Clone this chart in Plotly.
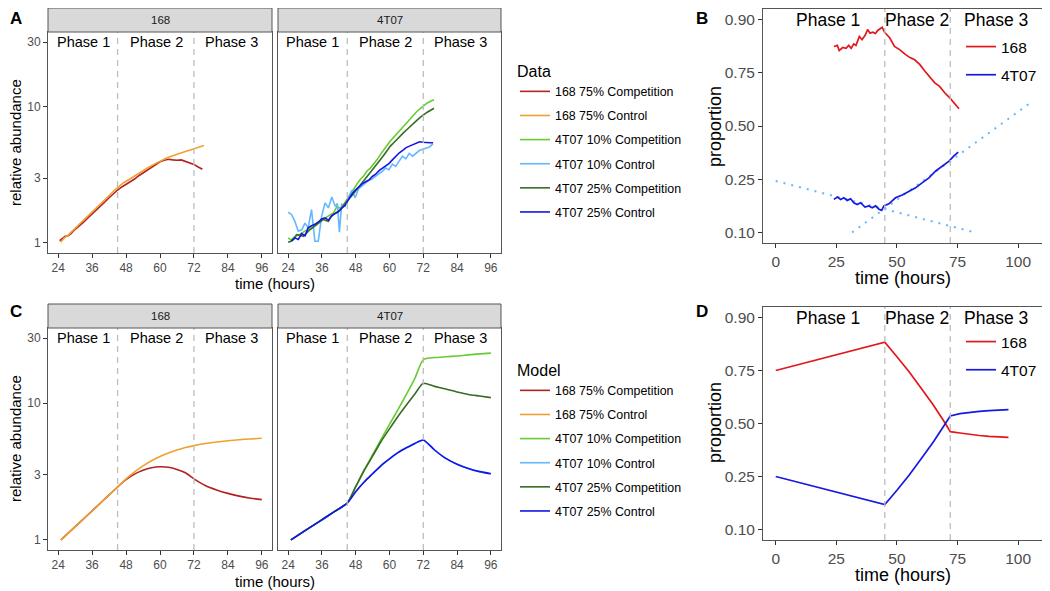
import math
import plotly.graph_objects as go

# page body has an 8px margin, so the figure is offset by 8px inside the window
OFF = 8
W, H = 1042, 583

# ---------------- data ----------------
phase_bounds = [45, 72]
phase_names = ["Phase 1", "Phase 2", "Phase 3"]

# Panel A : measured relative abundance
a_168_comp_t = [24.5, 25.5, 26.5, 27.5, 28.5, 30, 31.5, 33, 34.5, 36, 37.5, 39, 40.5, 42, 43.5, 45,
                46.5, 48, 49.5, 51, 52.5, 54, 55.5, 57, 58.5, 60, 61.5, 63, 64.5, 66, 67.5, 69,
                70.5, 72, 73.5, 75]
a_168_comp_y = [1.04, 1.08, 1.12, 1.13, 1.17, 1.26, 1.33, 1.42, 1.53, 1.63, 1.75, 1.88, 2.0, 2.15, 2.3, 2.45,
                2.58, 2.70, 2.80, 2.95, 3.12, 3.28, 3.45, 3.62, 3.80, 3.95, 4.05, 4.12, 4.08, 4.05, 4.08, 3.98,
                3.90, 3.78, 3.62, 3.48]
a_168_ctrl_t = [24.8, 26, 27.5, 29, 30.5, 32, 33.5, 35, 36.5, 38, 39.5, 41, 42.5, 44, 45.5, 47, 48.5, 50,
                51.5, 53, 54.5, 56, 57.5, 59, 60.5, 62, 63.5, 65, 66.5, 68, 69.5, 71, 72.5, 74, 75.5]
a_168_ctrl_y = [1.01, 1.08, 1.14, 1.22, 1.31, 1.40, 1.50, 1.60, 1.72, 1.85, 1.98, 2.12, 2.28, 2.45, 2.62, 2.76,
                2.88, 3.02, 3.16, 3.30, 3.44, 3.60, 3.75, 3.90, 4.05, 4.17, 4.30, 4.42, 4.53, 4.63, 4.74,
                4.85, 4.95, 5.07, 5.20]
a_4t07_10_comp_t = [24, 25, 26, 27, 28.2, 29.4, 30.5, 31.7, 32.9, 34.1, 35.3, 36.5, 37.7, 38.9, 40.1, 41.3,
                    42.5, 43.6, 44.8, 46, 47.2, 48.4, 49.6, 50.8, 52, 53.2, 54.4, 55.6, 56.8, 57.9, 59.1,
                    60.3, 61.5, 62.7, 63.9, 65.1, 66.3, 67.5, 68.6, 69.8, 71, 72.2, 73.4, 74.6, 75.8]
a_4t07_10_comp_y = [1.09, 1.05, 1.10, 1.12, 1.16, 1.20, 1.24, 1.28, 1.33, 1.40, 1.45, 1.50, 1.56, 1.60, 1.66,
                    1.85, 1.80, 1.90, 2.09, 2.25, 2.47, 2.70, 2.93, 3.10, 3.38, 3.55, 3.78, 4.10, 4.48, 4.85,
                    5.20, 5.62, 6.0, 6.42, 6.85, 7.3, 7.8, 8.35, 8.85, 9.3, 9.75, 10.3, 10.7, 11.0, 11.3]
a_4t07_10_ctrl_t = [24, 25.2, 26.4, 27.6, 28.8, 30, 31.1, 32.3, 33.5, 34.7, 35.9, 37.1, 38.3, 39.5, 40.7,
                    41.5, 42.2, 43, 44.2, 45.4, 46.6, 47.8, 49, 50.2, 51.4, 52.6, 53.8, 55, 56.2, 57.4,
                    58.6, 59.8, 61, 62.2, 63.4, 64.6, 65.8, 67, 68.2, 69.4, 70.6, 71.8, 73, 74.2, 75.4]
a_4t07_10_ctrl_y = [1.68, 1.62, 1.44, 1.22, 1.25, 1.40, 1.29, 1.76, 1.03, 1.03, 1.57, 1.97, 1.81, 2.18, 1.86,
                    1.95, 1.20, 1.92, 1.86, 2.15, 2.45, 2.15, 2.50, 2.62, 2.75, 2.88, 2.95, 3.10, 3.22, 3.35,
                    3.55, 3.45, 3.80, 3.65, 4.00, 4.35, 4.15, 4.55, 4.35, 4.60, 4.78, 4.88, 4.98, 5.08, 5.35]
a_4t07_25_comp_t = [24, 25, 26, 27, 28.2, 29.4, 30.5, 31.7, 32.9, 34.1, 35.3, 36.5, 37.4, 38.3, 39.2, 40.1,
                    41.3, 42.5, 43.6, 44.8, 46, 47.2, 48.4, 49.6, 50.8, 52, 53.2, 54.4, 55.6, 56.8, 57.9,
                    59.1, 60.3, 61.5, 62.7, 63.9, 65.1, 66.3, 67.5, 68.6, 69.8, 71, 72.2, 73.4, 74.6, 75.8]
a_4t07_25_comp_y = [1.01, 1.03, 1.07, 1.15, 1.14, 1.12, 1.18, 1.25, 1.30, 1.36, 1.42, 1.49, 1.46, 1.44, 1.55,
                    1.62, 1.68, 1.76, 1.88, 2.03, 2.15, 2.30, 2.47, 2.66, 2.85, 3.05, 3.25, 3.50, 3.80, 4.10,
                    4.40, 4.80, 5.15, 5.45, 5.80, 6.15, 6.50, 6.85, 7.25, 7.67, 8.0, 8.4, 8.84, 9.15, 9.45, 9.78]
a_4t07_25_ctrl_t = [25.2, 26.4, 27.6, 28.8, 30, 31.1, 32.3, 33.5, 34.7, 35.9, 37.1, 38.3, 39.5, 40.7, 41.9,
                    43.1, 44.3, 45.5, 46.7, 47.9, 49.1, 50.3, 51.5, 52.7, 53.9, 55.1, 56.3, 57.5, 58.7, 59.9,
                    61.1, 62.3, 63.5, 64.7, 65.9, 67.1, 68.3, 69.5, 70.7, 71.9, 73.1, 74.3, 75.5]
a_4t07_25_ctrl_y = [1.03, 1.09, 1.06, 1.17, 1.13, 1.29, 1.34, 1.37, 1.42, 1.50, 1.53, 1.47, 1.59, 1.65, 1.70,
                    1.80, 1.90, 2.10, 2.30, 2.45, 2.60, 2.72, 2.82, 2.90, 3.08, 3.20, 3.40, 3.55, 3.70, 3.85,
                    4.10, 4.35, 4.60, 4.80, 5.02, 5.15, 5.28, 5.38, 5.55, 5.50, 5.45, 5.45, 5.45]

# Panel B : measured proportions
b_t_168 = [24, 25.4, 26.2, 27.6, 29, 30.1, 31.1, 32.2, 33.1, 34.5, 35.6, 37, 37.9, 38.9, 40, 41.1, 42.1,
           43.1, 43.9, 44.9, 47, 49, 51.1, 53.2, 55.2, 57.3, 59.4, 61.4, 63.5, 65.6, 67.6, 69.7, 71.8,
           73.8, 75.6]
b_p_168 = [0.838, 0.841, 0.826, 0.835, 0.833, 0.841, 0.833, 0.845, 0.841, 0.864, 0.856, 0.868, 0.880,
           0.872, 0.874, 0.871, 0.878, 0.883, 0.885, 0.874, 0.861, 0.838, 0.829, 0.816, 0.805, 0.797,
           0.781, 0.758, 0.732, 0.709, 0.694, 0.665, 0.641, 0.612, 0.588]
b_t_4t07 = [24, 25.4, 26.8, 28.1, 29.5, 30.9, 32.2, 33.6, 35, 36.8, 38.4, 39.8, 41.2, 42.6, 43.7, 44.6,
            46.7, 49.4, 52.2, 55, 57.7, 60.5, 63.2, 66, 68.7, 71.5, 73.5, 75.3]
b_p_4t07 = [0.180, 0.187, 0.180, 0.185, 0.177, 0.182, 0.170, 0.165, 0.170, 0.158, 0.161, 0.156, 0.161,
            0.152, 0.149, 0.161, 0.167, 0.185, 0.194, 0.207, 0.218, 0.237, 0.255, 0.283, 0.304, 0.326,
            0.350, 0.368]
b_trend1_t = [0, 82]
b_trend1_p = [0.243, 0.10]
b_trend2_t = [31.5, 105]
b_trend2_p = [0.10, 0.617]

# Panel C : model relative abundance
c_t = [25, 30, 35, 40, 45, 48, 51, 54, 57, 60, 63, 66, 69, 72, 76, 80, 84, 88, 92, 96]
c_168_comp = [1.0, 1.25, 1.56, 1.95, 2.44, 2.76, 3.03, 3.23, 3.37, 3.43, 3.40, 3.28, 3.10, 2.80, 2.50,
              2.32, 2.19, 2.09, 2.02, 1.97]
c_168_ctrl = [1.0, 1.25, 1.56, 1.95, 2.44, 2.80, 3.15, 3.48, 3.80, 4.08, 4.33, 4.55, 4.74, 4.90, 5.07,
              5.21, 5.32, 5.41, 5.48, 5.54]
c_4t07_10_comp = [1.0, 1.17, 1.36, 1.59, 1.86, 2.45, 3.25, 4.2, 5.45, 7.0, 9.0, 11.6, 15.2, 20.9, 21.6,
                  21.9, 22.2, 22.6, 23.0, 23.3]
c_4t07_10_ctrl = [1.0, 1.17, 1.36, 1.59, 1.86, 2.25, 2.65, 3.05, 3.50, 3.92, 4.35, 4.72, 5.08, 5.39, 4.55,
                  3.95, 3.58, 3.33, 3.16, 3.05]
c_4t07_25_comp = [1.0, 1.17, 1.36, 1.59, 1.86, 2.45, 3.22, 4.1, 5.25, 6.5, 8.0, 9.7, 11.7, 14.0, 13.3,
                  12.7, 12.1, 11.6, 11.3, 11.0]
c_4t07_25_ctrl = [1.0, 1.17, 1.36, 1.59, 1.86, 2.25, 2.65, 3.05, 3.50, 3.92, 4.35, 4.72, 5.08, 5.39, 4.55,
                  3.95, 3.58, 3.33, 3.16, 3.05]

# Panel D : model proportions
d_t = [0, 45, 50, 55, 60, 65, 70, 72, 76, 80, 84, 88, 92, 96]
d_p_168 = [0.75, 0.844, 0.80, 0.745, 0.675, 0.595, 0.50, 0.458, 0.451, 0.443, 0.438, 0.434, 0.431, 0.429]
d_p_4t07 = [0.25, 0.157, 0.20, 0.255, 0.325, 0.405, 0.50, 0.539, 0.551, 0.558, 0.563, 0.566, 0.569, 0.571]

series_names = ["168 75% Competition", "168 75% Control", "4T07 10% Competition",
                "4T07 10% Control", "4T07 25% Competition", "4T07 25% Control"]
strain_names = ["168", "4T07"]
x_ticks_abund = [24, 36, 48, 60, 72, 84, 96]
y_ticks_abund = [1, 3, 10, 30]
x_ticks_prop = [0, 25, 50, 75, 100]
y_ticks_prop = [0.10, 0.25, 0.50, 0.75, 0.90]
y_ticks_prop_text = ["0.10", "0.25", "0.50", "0.75", "0.90"]

# ---------------- style ----------------
colors = ["#B22222", "#F0A030", "#66CC33", "#63B8FF", "#3A6B22", "#1414E6"]
red_p, blue_p = "#E3161B", "#1818E0"
FONT = "Liberation Sans, Arial, Helvetica, sans-serif"


def logit(p):
    return math.log(p / (1 - p))


def fx(px):
    return (px - OFF) / W


def fy(py):
    return 1 - (py - OFF) / H


fig = go.Figure()

# Panel A traces
a_sets = [(a_168_comp_t, a_168_comp_y), (a_168_ctrl_t, a_168_ctrl_y),
          (a_4t07_10_comp_t, a_4t07_10_comp_y), (a_4t07_10_ctrl_t, a_4t07_10_ctrl_y),
          (a_4t07_25_comp_t, a_4t07_25_comp_y), (a_4t07_25_ctrl_t, a_4t07_25_ctrl_y)]
for i, (t, y) in enumerate(a_sets):
    ax = ("x", "y") if i < 2 else ("x2", "y2")
    fig.add_trace(go.Scatter(x=t, y=y, mode="lines", name=series_names[i],
                             line=dict(color=colors[i], width=1.6),
                             xaxis=ax[0], yaxis=ax[1], legend="legend",
                             legendgroup="a%d" % i))

# Panel C traces
c_sets = [c_168_comp, c_168_ctrl, c_4t07_10_comp, c_4t07_10_ctrl, c_4t07_25_comp, c_4t07_25_ctrl]
for i, y in enumerate(c_sets):
    ax = ("x4", "y4") if i < 2 else ("x5", "y5")
    fig.add_trace(go.Scatter(x=c_t, y=y, mode="lines", name=series_names[i],
                             line=dict(color=colors[i], width=1.6, shape="spline", smoothing=0.6),
                             xaxis=ax[0], yaxis=ax[1], legend="legend2",
                             legendgroup="c%d" % i))

# Panel B traces
for tt, pp in [(b_trend1_t, b_trend1_p), (b_trend2_t, b_trend2_p)]:
    fig.add_trace(go.Scatter(x=tt, y=[logit(p) for p in pp], mode="lines",
                             line=dict(color="#63B8FF", width=2, dash="2px,6px"),
                             xaxis="x3", yaxis="y3", showlegend=False))
fig.add_trace(go.Scatter(x=b_t_168, y=[logit(p) for p in b_p_168], mode="lines", name=strain_names[0],
                         line=dict(color=red_p, width=1.7), xaxis="x3", yaxis="y3",
                         legend="legend3", legendgroup="b0"))
fig.add_trace(go.Scatter(x=b_t_4t07, y=[logit(p) for p in b_p_4t07], mode="lines", name=strain_names[1],
                         line=dict(color=blue_p, width=1.7), xaxis="x3", yaxis="y3",
                         legend="legend3", legendgroup="b1"))

# Panel D traces
fig.add_trace(go.Scatter(x=d_t, y=[logit(p) for p in d_p_168], mode="lines", name=strain_names[0],
                         line=dict(color=red_p, width=1.7), xaxis="x6", yaxis="y6",
                         legend="legend4", legendgroup="d0"))
fig.add_trace(go.Scatter(x=d_t, y=[logit(p) for p in d_p_4t07], mode="lines", name=strain_names[1],
                         line=dict(color=blue_p, width=1.7), xaxis="x6", yaxis="y6",
                         legend="legend4", legendgroup="d1"))

# ---------------- axes ----------------
panels = {
    "A1": (48, 272, 32, 253), "A2": (278, 501, 32, 253), "B": (763, 1043, 9, 243),
    "C1": (48, 272, 328, 550), "C2": (278, 501, 328, 550), "D": (763, 1043, 307, 540),
}


def axis(domain, rng, tickvals, size, anchor, ticktext=None, labels=True, ticks=True, typ="linear"):
    d = dict(domain=domain, range=rng, type=typ, tickmode="array", tickvals=tickvals,
             ticks="outside" if ticks else "", ticklen=4, tickwidth=1, tickcolor="#333333",
             showline=True, linecolor="#555555", linewidth=1, mirror=True,
             showgrid=False, zeroline=False, showticklabels=labels, anchor=anchor,
             tickfont=dict(size=size, color="#4D4D4D", family=FONT))
    if ticktext is not None:
        d["ticktext"] = ticktext
    return d


log_rng = [-0.074, 1.551]
x_rng_ab = [20.4, 99.6]
x_rng_pr = [-5.25, 110.25]
y_rng_pr = [-2.417, 2.417]
ptv = [logit(p) for p in y_ticks_prop]

names = ["A1", "A2", "B", "C1", "C2", "D"]
for k, nm in enumerate(names):
    x0, x1, y0, y1 = panels[nm]
    xd, yd = [fx(x0), fx(x1)], [fy(y1), fy(y0)]
    xn = "xaxis" if k == 0 else "xaxis%d" % (k + 1)
    yn = "yaxis" if k == 0 else "yaxis%d" % (k + 1)
    xa = "x" if k == 0 else "x%d" % (k + 1)
    ya = "y" if k == 0 else "y%d" % (k + 1)
    if nm in ("B", "D"):
        fig.layout[xn] = axis(xd, x_rng_pr, x_ticks_prop, 15.5, ya)
        fig.layout[yn] = axis(yd, y_rng_pr, ptv, 15.5, xa, ticktext=y_ticks_prop_text)
    else:
        fig.layout[xn] = axis(xd, x_rng_ab, x_ticks_abund, 12, ya)
        left = nm in ("A1", "C1")
        fig.layout[yn] = axis(yd, log_rng, y_ticks_abund, 12, xa, labels=left, ticks=left, typ="log")

# ---------------- shapes & annotations ----------------
shapes = []
annotations = []


def paper_text(txt, xp, yp, size, angle=0, color="black"):
    annotations.append(dict(text=txt, x=fx(xp), y=fy(yp), xref="paper", yref="paper", showarrow=False,
                            xanchor="center", yanchor="middle", textangle=angle,
                            font=dict(size=size, color=color, family=FONT)))


for k, nm in enumerate(names):
    xa = "x" if k == 0 else "x%d" % (k + 1)
    ya = "y" if k == 0 else "y%d" % (k + 1)
    for b in phase_bounds:
        shapes.append(dict(type="line", xref=xa, yref=ya + " domain", x0=b, x1=b, y0=0, y1=1,
                           line=dict(color="#BDBDBD", width=1.3, dash="6px,5px")))
    if nm in ("B", "D"):
        px_ = [21.5, 58.4, 91.0]
        py_ = logit(0.90)
        fs = 17.5
    else:
        px_ = [32.8, 58.6, 85.3]
        py_ = math.log10(30)
        fs = 14.5
    for name_, xp in zip(phase_names, px_):
        annotations.append(dict(text=name_, x=xp, y=py_, xref=xa, yref=ya, showarrow=False,
                                xanchor="center", yanchor="middle",
                                font=dict(size=fs, color="black", family=FONT)))

# strips
for nm, label in [("A1", "168"), ("A2", "4T07"), ("C1", "168"), ("C2", "4T07")]:
    x0, x1, y0, y1 = panels[nm]
    shapes.append(dict(type="rect", xref="paper", yref="paper", x0=fx(x0), x1=fx(x1),
                       y0=fy(y0), y1=fy(y0 - 24), fillcolor="#D9D9D9",
                       line=dict(color="#555555", width=1)))
    paper_text(label, (x0 + x1) / 2, y0 - 12, 11.5, color="#1A1A1A")

# panel letters
for letter, xp, yp in [("A", 16, 19), ("B", 702, 19), ("C", 16, 311), ("D", 702, 311)]:
    paper_text("<b>%s</b>" % letter, xp, yp, 17)

# axis titles
for txt, xp, yp, fs, ang in [("relative abundance", 15, 143, 15, -90), ("relative abundance", 15, 439, 15, -90),
                             ("time (hours)", 275, 283, 15, 0), ("time (hours)", 275, 581, 15, 0),
                             ("proportion", 715, 127, 18, -90), ("proportion", 715, 423, 18, -90),
                             ("time (hours)", 903, 278, 18, 0), ("time (hours)", 903, 575, 18, 0)]:
    paper_text(txt, xp, yp, fs, angle=ang)

leg_common = dict(xanchor="left", yanchor="top", bgcolor="rgba(0,0,0,0)", borderwidth=0,
                  traceorder="grouped", itemclick=False, itemdoubleclick=False)
fig.update_layout(
    width=W, height=H, margin=dict(l=0, r=0, t=0, b=0),
    paper_bgcolor="white", plot_bgcolor="white",
    font=dict(family=FONT, color="black"),
    shapes=shapes, annotations=annotations,
    legend=dict(x=fx(515), y=fy(56), title=dict(text="Data", font=dict(size=16)),
                font=dict(size=12.4), tracegroupgap=5, **leg_common),
    legend2=dict(x=fx(515), y=fy(355), title=dict(text="Model", font=dict(size=16)),
                 font=dict(size=12.4), tracegroupgap=5, **leg_common),
    legend3=dict(x=fx(961), y=fy(30), font=dict(size=15.5), tracegroupgap=5, **leg_common),
    legend4=dict(x=fx(961), y=fy(325), font=dict(size=15.5), tracegroupgap=5, **leg_common),
)

fig.write_html("out.html")
